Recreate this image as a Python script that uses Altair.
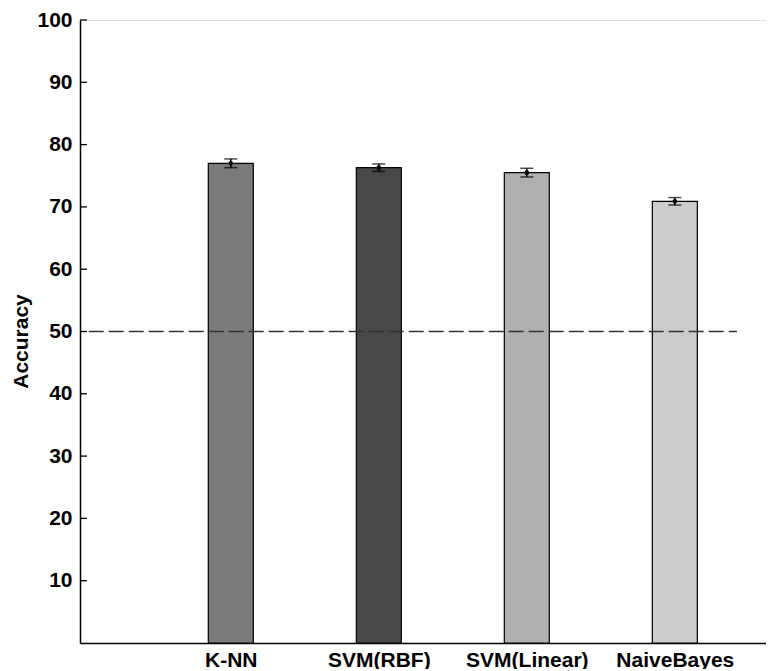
import altair as alt
import pandas as pd

# ---- data ----
classifiers = ["K-NN", "SVM(RBF)", "SVM(Linear)", "NaiveBayes"]
positions = [1, 2, 3, 4]
accuracy = [77.0, 76.3, 75.5, 70.9]
error = [0.7, 0.6, 0.7, 0.6]
bar_colors = ["#7a7a7a", "#484848", "#b0b0b0", "#cccccc"]
y_ticks = [10, 20, 30, 40, 50, 60, 70, 80, 90, 100]
chance_level = 50
chance_x = [0.04, 4.42]

df = pd.DataFrame({
    "clf": classifiers,
    "pos": positions,
    "acc": accuracy,
    "lo": [a - e for a, e in zip(accuracy, error)],
    "hi": [a + e for a, e in zip(accuracy, error)],
    "color": bar_colors,
})
ticks_df = pd.DataFrame({"t": y_ticks})
chance_df = pd.DataFrame({"x": chance_x, "y": [chance_level] * len(chance_x)})

W, H = 686, 623
X0 = 0.015
XMAX = X0 + W / 150.2

label_expr = "['', " + ", ".join(f"'{c}'" for c in classifiers) + "][datum.value]"

xscale = alt.Scale(domain=[X0, XMAX], nice=False, zero=False)
yscale = alt.Scale(domain=[0, 100], nice=False)

x_axis = alt.Axis(
    values=positions, labelExpr=label_expr, ticks=False, grid=False,
    domain=True, domainColor="#000000", domainWidth=1.5,
    labelFont="Liberation Sans", labelFontSize=21, labelFontWeight="bold",
    labelColor="#000000", labelPadding=6, title=None,
)
y_axis = alt.Axis(
    values=y_ticks, ticks=False, grid=False,
    domain=True, domainColor="#000000", domainWidth=1.5,
    labelFont="Liberation Sans", labelFontSize=21, labelFontWeight="bold",
    labelColor="#000000", labelPadding=8,
    title="Accuracy", titleFont="Liberation Sans", titleFontSize=21,
    titleFontWeight="bold", titleColor="#000000",
    titleAngle=270, titleAlign="center", titleBaseline="middle",
    titleX=-59, titleY=321,
)

bars = alt.Chart(df).mark_bar(size=45, stroke="#000000", strokeWidth=1.2).encode(
    x=alt.X("pos:Q", scale=xscale, axis=x_axis),
    y=alt.Y("acc:Q", scale=yscale, axis=y_axis),
    color=alt.Color("color:N", scale=None, legend=None),
)

err = alt.Chart(df).mark_rule(color="#000000", strokeWidth=1.5).encode(
    x=alt.X("pos:Q", scale=xscale),
    y=alt.Y("lo:Q", scale=yscale),
    y2="hi:Q",
)
cap_lo = alt.Chart(df).mark_tick(color="#000000", orient="horizontal", size=13, thickness=1.5).encode(
    x=alt.X("pos:Q", scale=xscale),
    y=alt.Y("lo:Q", scale=yscale),
)
cap_hi = alt.Chart(df).mark_tick(color="#000000", orient="horizontal", size=13, thickness=1.5).encode(
    x=alt.X("pos:Q", scale=xscale),
    y=alt.Y("hi:Q", scale=yscale),
)
dots = alt.Chart(df).mark_point(filled=True, color="#000000", size=22, opacity=1).encode(
    x=alt.X("pos:Q", scale=xscale),
    y=alt.Y("acc:Q", scale=yscale),
)

inner_ticks = alt.Chart(ticks_df).mark_rule(color="#000000", strokeWidth=1.3).encode(
    y=alt.Y("t:Q", scale=yscale),
    x=alt.value(0),
    x2=alt.value(7),
)

chance = alt.Chart(chance_df).mark_line(color="#333333", strokeWidth=1.3, strokeDash=[15, 5]).encode(
    x=alt.X("x:Q", scale=xscale),
    y=alt.Y("y:Q", scale=yscale),
)

chart = alt.layer(bars, inner_ticks, err, cap_lo, cap_hi, dots, chance).properties(
    width=W, height=H,
    autosize=alt.AutoSizeParams(type="none"),
    padding={"left": 72, "top": 12, "right": 0, "bottom": 26},
).configure_view(stroke=None).configure(background="#ffffff")

chart.save("out.html", embed_options={"renderer": "svg", "actions": False})
